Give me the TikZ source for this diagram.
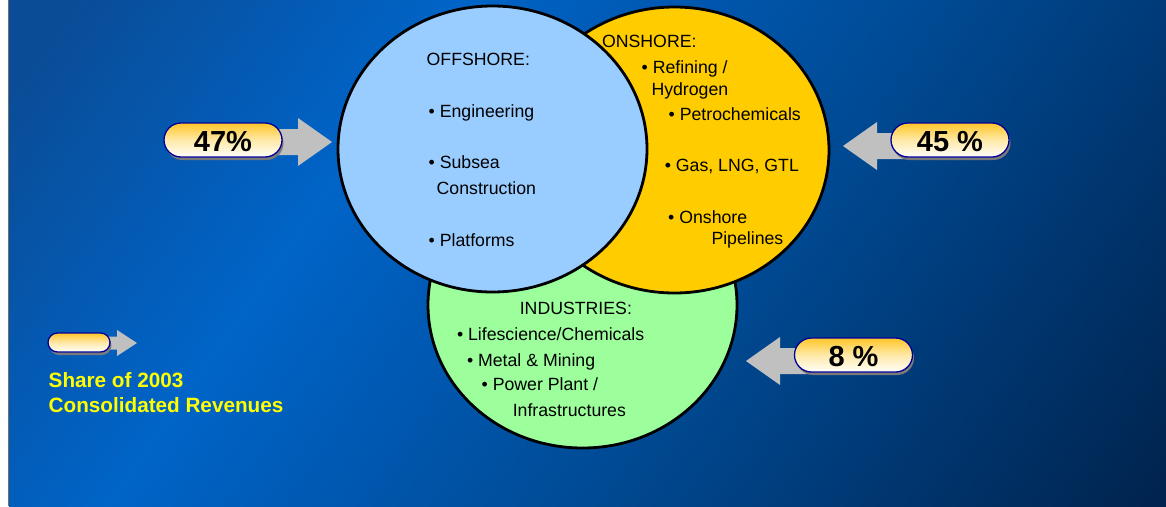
\documentclass[tikz,border=0pt]{standalone}
\usepackage{fontspec}
\setmainfont{Liberation Sans}
\usetikzlibrary{shapes.geometric,shadows}
\definecolor{offblue}{HTML}{99CCFF}
\definecolor{onyellow}{HTML}{FFCC00}
\definecolor{indgreen}{HTML}{9CFF9C}
\definecolor{arrowgray}{HTML}{C0C0C0}
\definecolor{pillborder}{HTML}{000099}
\definecolor{pilltop}{HTML}{FFC629}
\definecolor{pillmid}{HTML}{FFE9A8}
\definecolor{pillbot}{HTML}{FFFFFA}
\definecolor{pillshadow}{HTML}{7A7A7A}
\definecolor{legendyellow}{HTML}{FFFF00}
\definecolor{edgegray}{HTML}{707070}
\definecolor{bgA}{HTML}{0A4C96}
\definecolor{bgB}{HTML}{0064C8}
\definecolor{bgC}{HTML}{004A94}
\definecolor{bgD}{HTML}{00244F}
\pgfdeclarehorizontalshading{bgshade}{100bp}{color(0bp)=(bgA); color(18bp)=(bgA); color(36bp)=(bgB); color(58bp)=(bgC); color(84bp)=(bgD); color(100bp)=(bgD)}
\tikzset{
  venn/.style={ellipse, draw=black, line width=2.8pt, minimum width=309pt, minimum height=286pt, inner sep=0pt},
  ctext/.style={anchor=base west, inner sep=0pt, font=\fontsize{17.7}{21}\selectfont},
  legtext/.style={anchor=base west, inner sep=0pt, text=legendyellow, font=\fontsize{20.7}{25}\selectfont\bfseries},
  pillbase/.style={draw=pillborder, line width=1.3pt, top color=pilltop, bottom color=pillbot, middle color=pillmid,
    drop shadow={shadow xshift=1.5pt, shadow yshift=-3pt, fill=pillshadow, opacity=1}, inner sep=0pt},
  bigpill/.style={pillbase, rounded corners=17pt, minimum width=118pt, minimum height=34pt, text height=23pt, text depth=0pt, font=\fontsize{29}{34}\selectfont\bfseries},
  smallpill/.style={pillbase, rounded corners=9.5pt, minimum width=62pt, minimum height=19pt},
  blockarrow/.style={fill=arrowgray, draw=none}
}
\begin{document}
\begin{tikzpicture}[x=1pt,y=-1pt]
\useasboundingbox (0,0) rectangle (1166,506);
% background
\fill[white] (0,0) rectangle (1166,506);
\shade[shading=bgshade, shading angle=-35] (9,0) rectangle (1166,506);
\draw[edgegray, line width=1.2pt] (8.4,0) -- (8.4,506);

% circles
\node[venn, fill=indgreen] (ind) at (582.5,305) {};
\node[venn, fill=onyellow] (on) at (674.5,150) {};
\node[venn, fill=offblue] (off) at (492.5,149) {};

% offshore text
\node[ctext] (offT) at (426.5,65.7) {OFFSHORE:};
\node[ctext] (off1) at (428.5,117.3) {• Engineering};
\node[ctext] (off2) at (428.5,168.3) {• Subsea};
\node[ctext] (off2b) at (436.5,194) {Construction};
\node[ctext] (off3) at (428.5,246) {• Platforms};

% onshore text
\node[ctext] (onT) at (601.9,47.3) {ONSHORE:};
\node[ctext] (on1) at (641.5,73.3) {• Refining /};
\node[ctext] (on1b) at (651.3,95) {Hydrogen};
\node[ctext] (on2) at (668.5,120) {• Petrochemicals};
\node[ctext] (on3) at (664.6,171.7) {• Gas, LNG, GTL};
\node[ctext] (on4) at (668,223.3) {• Onshore};
\node[ctext] (on4b) at (711.3,244) {Pipelines};

% industries text
\node[ctext] (indT) at (519.6,314) {INDUSTRIES:};
\node[ctext] (ind1) at (456.8,340) {• Lifescience/Chemicals};
\node[ctext] (ind2) at (466.8,366) {• Metal \& Mining};
\node[ctext] (ind3) at (481.5,390.7) {• Power Plant /};
\node[ctext] (ind3b) at (512.6,416.7) {Infrastructures};

% arrows
\coordinate (t47) at (332,142);
\coordinate (t45) at (843,146);
\coordinate (t8) at (746,361);
\coordinate (tleg) at (137,343);
\fill[blockarrow] (t47) -- ++(-34,-24) -- ++(0,11) -- ++(-50,0) -- ++(0,26) -- ++(50,0) -- ++(0,11) -- cycle;
\fill[blockarrow] (t45) -- ++(34,-24) -- ++(0,11) -- ++(50,0) -- ++(0,26) -- ++(-50,0) -- ++(0,11) -- cycle;
\fill[blockarrow] (t8) -- ++(34,-24) -- ++(0,11) -- ++(50,0) -- ++(0,26) -- ++(-50,0) -- ++(0,11) -- cycle;
\fill[blockarrow] (tleg) -- ++(-20,-13) -- ++(0,6.5) -- ++(-30,0) -- ++(0,13) -- ++(30,0) -- ++(0,6.5) -- cycle;

% pills
\node[bigpill] (p47) at (223,140) {47\%};
\node[bigpill] (p45) at (950,140) {45 \%};
\node[bigpill] (p8) at (853.5,355) {8 \%};
\node[smallpill] (pleg) at (79,342.5) {};

% legend text
\node[legtext] (leg1) at (48.5,387.3) {Share of 2003};
\node[legtext] (leg2) at (48.5,412.7) {Consolidated Revenues};
\end{tikzpicture}
\end{document}
